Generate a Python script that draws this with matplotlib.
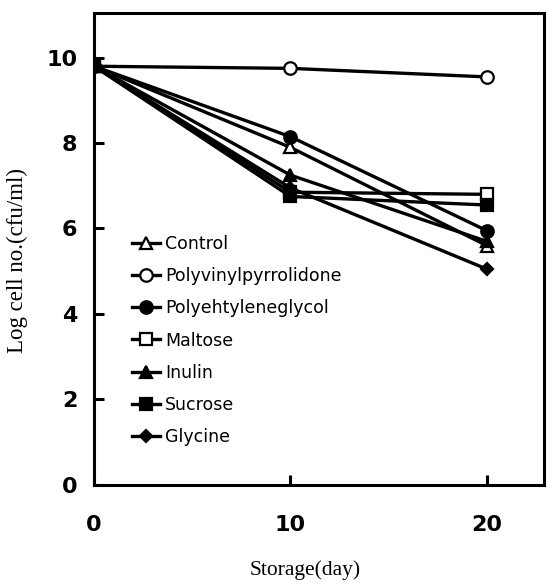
import matplotlib
matplotlib.use("Agg")
import matplotlib.pyplot as plt

days = [0, 10, 20]
names = ["Control", "Polyvinylpyrrolidone", "Polyehtyleneglycol",
         "Maltose", "Inulin", "Sucrose", "Glycine"]
control = [9.8, 7.9, 5.6]
pvp = [9.8, 9.75, 9.55]
peg = [9.8, 8.15, 5.95]
maltose = [9.8, 6.85, 6.8]
inulin = [9.8, 7.25, 5.7]
sucrose = [9.8, 6.75, 6.55]
glycine = [9.8, 6.95, 5.05]

series = [control, pvp, peg, maltose, inulin, sucrose, glycine]
markers = ["^", "o", "o", "s", "^", "s", "D"]
faces = ["white", "white", "black", "white", "black", "black", "black"]
sizes = [8.5, 9, 9, 8.5, 8.5, 8.5, 6.5]

fig = plt.figure(figsize=(5.47, 5.84), dpi=100)
ax = fig.add_axes([0.172, 0.170, 0.822, 0.808])

for vals, name, m, fc, ms in zip(series, names, markers, faces, sizes):
    ax.plot(days, vals, color="black", lw=2.4, marker=m, ms=ms,
            mfc=fc, mec="black", mew=1.6, label=name)

ax.set_xlim(0, 22.9)
ax.set_ylim(0, 11.05)
ax.set_xticks([0, 10, 20])
ax.set_yticks([0, 2, 4, 6, 8, 10])
for s in ax.spines.values():
    s.set_linewidth(2.2)
ax.tick_params(direction="in", length=7, width=2.2, labelsize=16, pad=12)
for lab in ax.get_xticklabels() + ax.get_yticklabels():
    lab.set_fontweight("bold")
ax.tick_params(axis="x", pad=22)

ax.set_xlabel("Storage(day)", family="Liberation Serif", fontsize=15.5)
ax.set_ylabel("Log cell no.(cfu/ml)", family="Liberation Serif", fontsize=16.5)
ax.xaxis.set_label_coords(0.469, -0.16)
ax.yaxis.set_label_coords(-0.147, 0.475)

ax.legend(loc="upper left", bbox_to_anchor=(0.065, 0.548), frameon=False,
          handlelength=1.6, handletextpad=0.3, labelspacing=0.82,
          borderpad=0, prop={"size": 12.5})

plt.savefig("out.png", dpi=100)
